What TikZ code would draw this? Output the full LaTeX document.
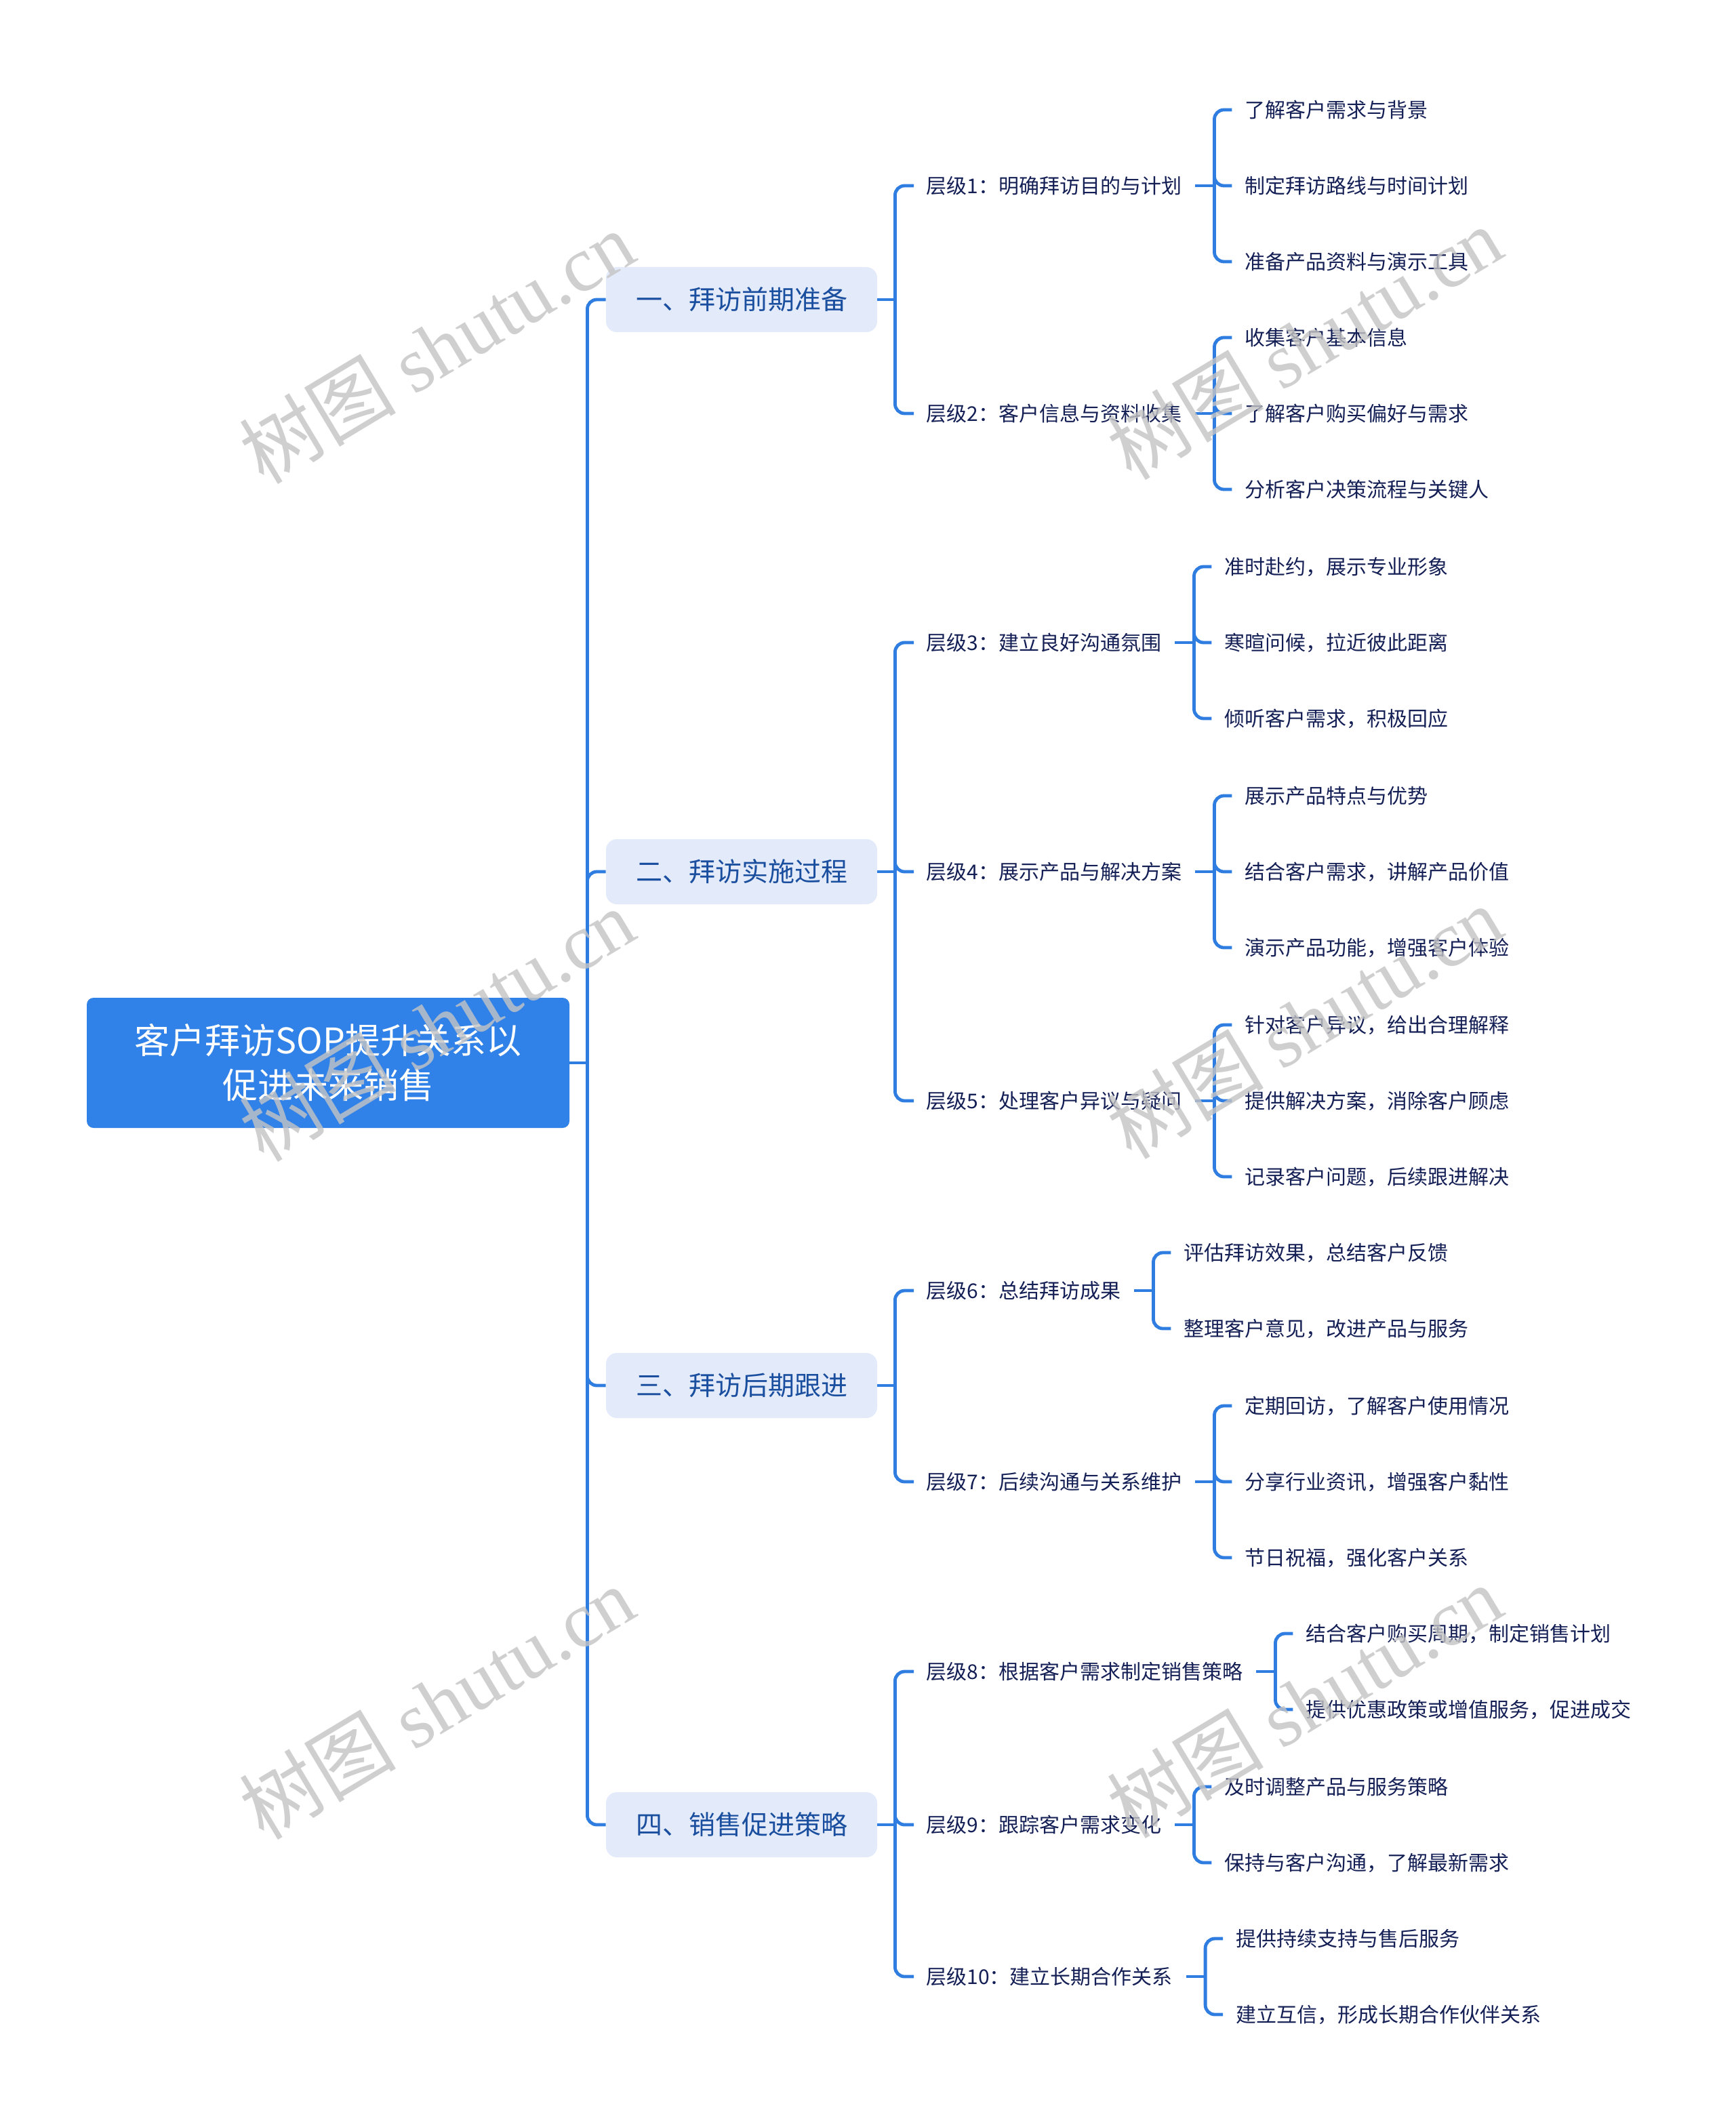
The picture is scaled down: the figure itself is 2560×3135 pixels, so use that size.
\documentclass[tikz,border=0pt]{standalone}
\usepackage{fontspec}
\setmainfont{Noto Sans CJK SC}
\newfontfamily\wmserif{Liberation Serif}
\usetikzlibrary{calc}
\definecolor{lineblue}{HTML}{2F7DE1}
\definecolor{rootblue}{HTML}{3081E8}
\definecolor{secfill}{HTML}{E3EAFA}
\definecolor{sectext}{HTML}{1A4E9E}
\definecolor{leaftext}{HTML}{141F55}
\definecolor{wmgray}{HTML}{C4C4C4}
\begin{document}
\begin{tikzpicture}[x=0.5pt,y=-0.5pt,
  rootbox/.style={fill=rootblue, rounded corners=5pt, minimum width=356pt, minimum height=96pt,
    text=white, font=\fontsize{26}{33}\selectfont, align=center, inner sep=0pt},
  secbox/.style={fill=secfill, rounded corners=8pt, minimum width=200pt, minimum height=48pt,
    text=sectext, font=\fontsize{19.5}{24}\selectfont, inner sep=0pt},
  lvl/.style={anchor=west, inner sep=0pt, text=leaftext, font=\fontsize{15}{18}\selectfont},
  conn/.style={draw=lineblue, line width=2.4pt, rounded corners=7pt},
  stub/.style={draw=lineblue, line width=2.4pt},
  wm/.style={text=wmgray, text opacity=0.8, rotate=31, inner sep=0pt,
    font=\fontsize{58}{66}\selectfont}]
\useasboundingbox (0,0) rectangle (2560,3135);
\fill[white] (0,0) rectangle (2560,3135);

% root and sections
\node[rootbox] (root) at (484,1568) {客户拜访SOP提升关系以\\促进未来销售};
\node[secbox] (s1) at (1094,442) {一、拜访前期准备};
\node[secbox] (s2) at (1094,1286) {二、拜访实施过程};
\node[secbox] (s3) at (1094,2044) {三、拜访后期跟进};
\node[secbox] (s4) at (1094,2692) {四、销售促进策略};

\coordinate (rj) at ($(root.east)+(26,0)$);
\draw[stub] (root.east) -- (rj);
\foreach \s in {s1,s2,s3,s4} \draw[conn] (rj) |- (\s.west);

% level 2
\node[lvl] (l1) at (1366,274) {层级1：明确拜访目的与计划};
\node[lvl] (l2) at (1366,610) {层级2：客户信息与资料收集};
\node[lvl] (l3) at (1366,948) {层级3：建立良好沟通氛围};
\node[lvl] (l4) at (1366,1286) {层级4：展示产品与解决方案};
\node[lvl] (l5) at (1366,1624) {层级5：处理客户异议与疑问};
\node[lvl] (l6) at (1366,1904) {层级6：总结拜访成果};
\node[lvl] (l7) at (1366,2186) {层级7：后续沟通与关系维护};
\node[lvl] (l8) at (1366,2466) {层级8：根据客户需求制定销售策略};
\node[lvl] (l9) at (1366,2692) {层级9：跟踪客户需求变化};
\node[lvl] (l10) at (1366,2916) {层级10：建立长期合作关系};

\foreach \s/\kids in {s1/{l1,l2}, s2/{l3,l4,l5}, s3/{l6,l7}, s4/{l8,l9,l10}} {
  \coordinate (\s j) at ($(\s.east)+(26,0)$);
  \draw[stub] (\s.east) -- (\s j);
  \foreach \k in \kids \draw[conn] (\s j) |- ($(\k.west)+(-18,0)$);
}

% leaves
\path (l1.east) ++(93,-112) node[lvl] (c11) {了解客户需求与背景};
\path (l1.east) ++(93,0) node[lvl] (c12) {制定拜访路线与时间计划};
\path (l1.east) ++(93,112) node[lvl] (c13) {准备产品资料与演示工具};
\path (l2.east) ++(93,-112) node[lvl] (c21) {收集客户基本信息};
\path (l2.east) ++(93,0) node[lvl] (c22) {了解客户购买偏好与需求};
\path (l2.east) ++(93,112) node[lvl] (c23) {分析客户决策流程与关键人};
\path (l3.east) ++(93,-112) node[lvl] (c31) {准时赴约，展示专业形象};
\path (l3.east) ++(93,0) node[lvl] (c32) {寒暄问候，拉近彼此距离};
\path (l3.east) ++(93,112) node[lvl] (c33) {倾听客户需求，积极回应};
\path (l4.east) ++(93,-112) node[lvl] (c41) {展示产品特点与优势};
\path (l4.east) ++(93,0) node[lvl] (c42) {结合客户需求，讲解产品价值};
\path (l4.east) ++(93,112) node[lvl] (c43) {演示产品功能，增强客户体验};
\path (l5.east) ++(93,-112) node[lvl] (c51) {针对客户异议，给出合理解释};
\path (l5.east) ++(93,0) node[lvl] (c52) {提供解决方案，消除客户顾虑};
\path (l5.east) ++(93,112) node[lvl] (c53) {记录客户问题，后续跟进解决};
\path (l6.east) ++(93,-56) node[lvl] (c61) {评估拜访效果，总结客户反馈};
\path (l6.east) ++(93,56) node[lvl] (c62) {整理客户意见，改进产品与服务};
\path (l7.east) ++(93,-112) node[lvl] (c71) {定期回访，了解客户使用情况};
\path (l7.east) ++(93,0) node[lvl] (c72) {分享行业资讯，增强客户黏性};
\path (l7.east) ++(93,112) node[lvl] (c73) {节日祝福，强化客户关系};
\path (l8.east) ++(93,-56) node[lvl] (c81) {结合客户购买周期，制定销售计划};
\path (l8.east) ++(93,56) node[lvl] (c82) {提供优惠政策或增值服务，促进成交};
\path (l9.east) ++(93,-56) node[lvl] (c91) {及时调整产品与服务策略};
\path (l9.east) ++(93,56) node[lvl] (c92) {保持与客户沟通，了解最新需求};
\path (l10.east) ++(93,-56) node[lvl] (c101) {提供持续支持与售后服务};
\path (l10.east) ++(93,56) node[lvl] (c102) {建立互信，形成长期合作伙伴关系};

\foreach \p/\kids in {l1/{c11,c12,c13}, l2/{c21,c22,c23}, l3/{c31,c32,c33},
    l4/{c41,c42,c43}, l5/{c51,c52,c53}, l6/{c61,c62}, l7/{c71,c72,c73},
    l8/{c81,c82}, l9/{c91,c92}, l10/{c101,c102}} {
  \coordinate (\p j) at ($(\p.east)+(48,0)$);
  \draw[stub] ($(\p.east)+(20,0)$) -- (\p j);
  \foreach \k in \kids \draw[conn] (\p j) |- ($(\k.west)+(-19,0)$);
}

% watermarks
\node[wm] (w1) at (644,512) {树图 {\wmserif shutu.cn}};
\node[wm] (w2) at (1924,506) {树图 {\wmserif shutu.cn}};
\node[wm] (w3) at (644,1512) {树图 {\wmserif shutu.cn}};
\node[wm] (w4) at (1924,1508) {树图 {\wmserif shutu.cn}};
\node[wm] (w5) at (644,2512) {树图 {\wmserif shutu.cn}};
\node[wm] (w6) at (1924,2510) {树图 {\wmserif shutu.cn}};
\end{tikzpicture}
\end{document}
